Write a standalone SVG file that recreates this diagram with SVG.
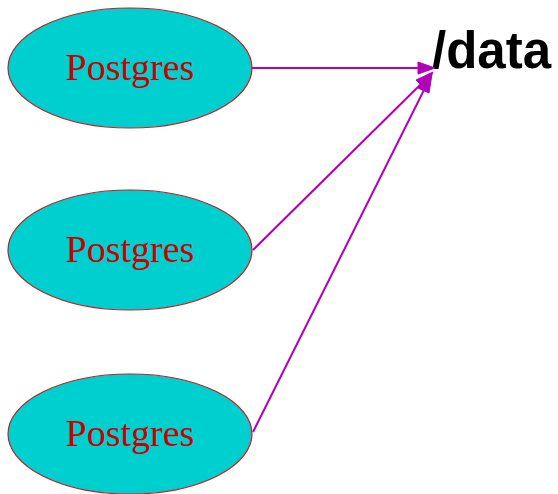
<svg xmlns="http://www.w3.org/2000/svg" width="558" height="494" viewBox="0 0 558 494">
<style>
.node ellipse{fill:#00cfcf;stroke:#c02020;stroke-width:1.2}
.node text{font-family:"Liberation Serif",serif;font-size:38px;fill:#cc0000;text-anchor:middle}
.edge{stroke:#b000b8;stroke-width:2;fill:none}
.head{fill:#b000b8;stroke:#b000b8;stroke-width:1}
.lbl{font-family:"Liberation Sans",Arial,sans-serif;font-weight:bold;font-size:51px;fill:#000}
</style>
<rect width="558" height="494" fill="#fff"/>
<g id="node1" class="node"><ellipse cx="130" cy="68" rx="122" ry="60"/><text x="130" y="80">Postgres</text></g>
<g id="node2" class="node"><ellipse cx="130" cy="250" rx="122" ry="60"/><text x="130" y="262">Postgres</text></g>
<g id="node3" class="node"><ellipse cx="130" cy="434" rx="122" ry="60"/><text x="130" y="446">Postgres</text></g>
<g id="data"><text class="lbl" x="432" y="68">/data</text></g>
<g id="connectors">
<line class="edge" x1="252" y1="68" x2="420" y2="68"/>
<polygon class="head" points="435,68 418,62 418,74"/>
<line class="edge" x1="253" y1="250" x2="421" y2="84"/>
<polygon class="head" points="433,72 425,89 416,80"/>
<line class="edge" x1="253" y1="432" x2="424" y2="90"/>
<polygon class="head" points="432,74 429,93 418,88"/>
</g>
</svg>
